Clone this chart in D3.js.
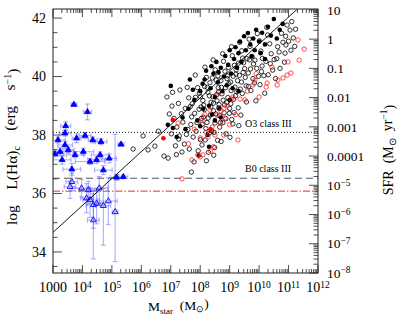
<!DOCTYPE html>
<html>
<head>
<meta charset="utf-8">
<script src="https://cdn.jsdelivr.net/npm/d3@7"></script>
<style>
body { margin: 0; background: #fff; }
svg { display: block; font-family: "Liberation Serif", "Times New Roman", serif; }
</style>
</head>
<body>
<svg id="chart" width="399" height="323"></svg>
<script>
// log M* [Msun], log L(Ha) [erg/s]
let blackOpen = [
	[5.72,37.52],[6.06,37.97],[6.23,37.49],[6.46,37.62],[6.58,38.13],[6.77,37.28],[6.87,39.3],[6.95,38.72],
	[7.04,38.99],[7.11,38.57],[7.02,38.04],[6.91,37.21],[7.16,37.63],[7.21,38.27],[7.06,39.46],[7.19,37.33],
	[7.31,39.54],[7.26,39.08],[7.36,38.73],[7.41,38.44],[7.29,37.97],[7.46,37.69],[7.38,37.42],[7.7,36.73],[7.49,38.91],[7.27,37.86],
	[7.56,39.63],[7.61,39.27],[7.66,38.97],[7.71,38.62],[7.58,38.19],[7.76,37.93],[7.63,37.52],[7.79,37.08],[7.53,38.02],[7.73,39.07],[7.68,38.36],
	[7.83,40.05],[7.91,39.62],[7.97,39.43],[8.03,38.96],[7.81,38.74],[8.07,38.37],[7.86,38.13],[8.01,37.84],[7.93,37.46],[8.06,37.66],[8.09,39.18],[7.96,38.88],[8.04,38.57],[7.84,39.29],
	[8.16,40.32],[8.21,39.97],[8.24,39.63],[8.31,39.34],[8.12,39.02],[8.34,38.68],[8.23,38.43],[8.39,38.14],[8.17,37.83],[8.28,37.41],[8.33,39.79],[8.14,38.87],[8.27,38.58],[8.37,39.12],[8.19,38.22],[8.21,37.12],
	[8.44,40.57],[8.51,40.23],[8.54,39.88],[8.61,39.62],[8.43,39.31],[8.64,39.04],[8.53,38.72],[8.69,38.43],[8.47,38.09],[8.59,37.82],[8.62,39.47],[8.45,38.83],[8.57,39.17],[8.66,38.27],[8.49,37.57],[8.46,37.31],
	[8.76,40.78],[8.79,40.52],[8.84,40.18],[8.91,39.93],[8.72,39.63],[8.94,39.28],[8.83,39.03],[8.99,38.74],[8.77,38.42],[8.88,38.04],[8.93,40.02],[8.74,39.41],[8.87,38.56],[8.97,39.76],[8.71,37.78],[9.01,37.92],
	[9.06,41.02],[9.09,40.71],[9.16,40.38],[9.21,40.08],[9.03,39.81],[9.24,39.48],[9.13,39.22],[9.29,38.93],[9.07,38.53],[9.22,40.23],[9.18,39.64],[9.11,38.38],[9.27,39.86],[9.04,39.07],[9.31,38.32],
	[9.34,41.17],[9.41,40.88],[9.44,40.63],[9.51,40.27],[9.33,40.04],[9.56,39.68],[9.43,39.42],[9.57,39.13],[9.38,38.68],[9.47,40.47],[9.53,39.97],[9.36,39.57],
	[9.66,41.28],[9.69,41.03],[9.76,40.68],[9.81,40.43],[9.63,40.12],[9.84,39.78],[9.72,39.52],[9.89,39.17],[9.67,40.57],[9.79,39.93],
	[9.94,41.47],[10.01,41.22],[10.06,40.87],[10.11,40.62],[9.92,40.28],[10.16,40.03],[10.03,39.72],[10.19,39.43],[10.08,40.17],
	[10.26,41.68],[10.29,41.42],[10.36,41.12],[10.41,40.78],[10.23,40.52],[10.46,40.22],[10.56,39.93],[10.51,40.58],[10.38,40.44],
	[10.68,40.84],[10.76,41.48],[10.81,41.17],[10.88,40.8],[10.91,41.08],[10.95,41.76],[10.71,40.28],[10.86,40.49],[10.63,41.02],
	[11.05,41.59],[11.11,41.88],[11.16,41.32],[11.21,41.03],[11.24,41.62],[11.08,40.9],
	[8.26,39.46],[8.41,39.95],[8.56,39.38],[8.63,38.93],[8.7,39.86],[8.78,39.19],[8.86,39.62],[8.96,40.31],[9.05,39.52],[9.12,40.01],
	[9.2,39.34],[9.3,40.46],[9.4,39.81],[9.46,40.14],[9.59,40.61],[9.64,39.66],[8.36,38.96],[8.5,38.41],[8.66,38.66],[8.81,38.76],
	[8.9,39.11],[9.0,38.91],[9.15,38.77],[8.11,38.61],[8.31,38.06],[8.01,39.31],[7.89,38.42],[8.15,39.66],[8.45,39.09],[8.6,40.02],
	[9.71,40.26],[9.86,40.56],[9.98,40.01],[10.1,40.36],[10.31,40.06],[10.6,40.61],[10.9,41.38],[11.0,41.21]
]

let blackFilled = [
	[7.0,39.68],[7.65,39.9],[6.9,38.35],[7.2,37.93],[7.07,38.24],[7.4,38.6],[7.6,38.9],[7.8,39.2],[7.9,38.5],
	[8.0,39.5],[8.1,38.9],[8.15,39.9],[8.2,40.2],[8.3,39.0],[8.35,39.6],[8.4,38.7],[8.45,40.1],[8.5,39.3],
	[8.55,40.5],[8.6,39.8],[8.65,38.9],[8.7,40.3],[8.75,39.5],[8.8,40.0],[8.85,40.7],[8.9,39.7],[8.95,40.4],
	[9.0,40.9],[9.05,40.1],[9.1,39.6],[9.15,40.6],[9.2,41.0],[9.25,40.3],[9.3,40.8],[9.35,41.2],[9.4,40.5],
	[9.49,41.38],[9.55,40.9],[9.62,41.49],[9.7,41.1],[9.75,40.7],[9.8,41.3],[9.85,40.9],[9.9,41.6],[10.0,41.2],
	[10.05,40.8],[10.1,41.5],[10.2,41.1],[10.3,41.7],[10.5,41.97],[10.4,41.4],[10.6,41.3],[10.7,41.6],[10.8,41.8],
	[8.0,38.3],[8.25,38.0],[7.5,38.2],[8.5,38.5],[8.7,38.6],[9.0,39.2],[8.3,37.6],[7.95,37.3],[9.3,39.5],[10.2,40.6],
	[8.38,40.35],[8.62,40.15],[7.75,39.55],[8.08,39.75]
]

let redOpen = [
	[11.32,41.25],[11.53,40.94],[11.36,40.56],[10.98,40.5],[10.44,40.32],[11.08,40.12],[10.95,40.05],[10.81,39.95],
	[10.64,39.88],[10.61,39.71],[10.27,39.78],[10.24,39.64],[9.79,39.71],[9.52,39.2],[9.35,39.23],[9.11,39.3],
	[9.05,39.23],[8.91,38.99],[8.81,38.92],[8.71,38.82],[8.57,38.68],[8.84,38.58],[8.67,38.41],[8.4,38.27],
	[9.28,37.83],[7.99,37.25],[8.09,37.32],[8.26,37.93],[7.72,37.15],[7.92,37.32],[7.38,36.5],[7.25,38.41],
	[8.6,39.4],[8.33,38.85],[8.06,38.5],[8.2,38.1],[8.8,38.0],[9.2,38.7],[9.86,39.88],[9.6,39.5],[8.45,37.6],
	[8.0,37.9],[7.8,38.2],[9.0,38.35],[8.5,38.0],[10.0,39.3],[9.9,40.1],[8.35,37.45],[7.6,37.7],[8.15,38.7]
]

let redFilled = [[7.07,38.51],[6.75,37.89],[8.35,38.2]]

// star clusters: mass, luminosity, errors, filled or not
let clusterM = [3.71,4.17,3.43,3.41,3.80,4.09,4.35,4.63,5.31,3.41,3.24,3.52,3.75,4.03,4.60,4.91,4.26,4.48,3.64,4.71,5.16,5.39,3.07,3.17,3.31,
	3.64,3.58,3.97,4.20,4.57,4.14,4.26,4.48,4.88,4.37,4.71,4.37,5.11]
let clusterL = [39.04,38.79,38.31,38.06,37.89,37.98,37.83,37.77,37.68,37.66,37.43,37.49,37.32,37.43,37.32,37.20,37.09,37.15,36.83,36.80,36.55,36.57,37.35,37.83,37.15,
	36.40,36.23,36.18,36.12,36.18,35.84,35.78,35.66,35.74,35.61,35.58,35.09,35.37]
let clusterMerr = [.10,.14,.17,.20,.15,.20,.15,.20,.10,.25,.30,.20,.30,.35,.30,.25,.50,.30,.30,.30,.20,.15,.30,.25,.30,
	.20,.20,.25,.30,.30,.20,.25,.30,.30,.25,.25,.20,.10]
let clusterLlo = [.05,.27,.14,.10,.15,.10,.10,.10,.05,.12,.15,.10,.10,.12,.10,.15,.10,.12,.20,.15,.10,.05,.10,.10,.15,
	.30,.40,.30,.30,.50,.50,.60,.70,.80,.80,1.35,1.33,1.70]
let clusterLhi = [.05,.27,.14,.10,.15,.10,.10,.10,.05,.12,.15,.10,.10,.12,.10,.15,.10,.12,.20,.15,.10,.05,.10,.10,.15,
	.30,.20,.30,.30,.40,.50,.40,.50,.80,.50,.60,.90,2.65]
let clusterFilled = [1,1,1,1,1,1,1,1,1,1,1,1,1,1,1,1,1,1,1,1,1,1,1,1,1,
	0,0,0,0,0,0,0,0,0,0,0,0,0]

let fitM = [3, 11.3]
let fitL = [34.67, 42.31]

let levelNames = ["O3 class III", "B0 class III", ""]
let levelL = [38.09, 36.52, 36.08]

let leftTicks = [34, 36, 38, 40, 42]
let sfrTicks = [1, 0, -1, -2, -3, -4, -5, -6, -7, -8]
let sfrLabels = ["10", "1", "0.1", "0.01", "0.001", "0.0001", "-5", "-6", "-7", "-8"]
let massTicks = [3, 4, 5, 6, 7, 8, 9, 10, 11, 12]

let sfrOffset = 41.28

let svg = d3.select("#chart")
let pLeft = 53, pRight = 318, pTop = 9, pBottom = 273

let x = d3.scaleLinear().domain([3, 12]).range([pLeft, pRight])
let y = d3.scaleLinear().domain([33.28, 42.31]).range([pBottom, pTop])

svg.append("clipPath").attr("id", "clip")
	.append("rect").attr("x", pLeft).attr("y", pTop).attr("width", pRight - pLeft).attr("height", pBottom - pTop)

let plot = svg.append("g").attr("clip-path", "url(#clip)")

// horizontal reference levels
let levelStyle = [
	{stroke: "#000", dash: "1,2", w: 0.9},
	{stroke: "#555", dash: "7,4", w: 1.1},
	{stroke: "#e03030", dash: "7,2,1.5,2", w: 1}
]
levelL.forEach((v, i) => {
	plot.append("line")
		.attr("x1", pLeft).attr("x2", pRight)
		.attr("y1", y(v)).attr("y2", y(v))
		.attr("stroke", levelStyle[i].stroke)
		.attr("stroke-width", levelStyle[i].w)
		.attr("stroke-dasharray", levelStyle[i].dash)
})

// cluster error bars
let barColor = "rgba(60,60,255,0.38)"
let eb = plot.append("g").attr("stroke", barColor).attr("stroke-width", 1.2)
clusterM.forEach((m, i) => {
	let cx = x(m), cy = y(clusterL[i])
	let x0 = x(m - clusterMerr[i]), x1 = x(m + clusterMerr[i])
	let y0 = y(clusterL[i] - clusterLlo[i]), y1 = y(clusterL[i] + clusterLhi[i])
	eb.append("line").attr("x1", x0).attr("x2", x1).attr("y1", cy).attr("y2", cy)
	eb.append("line").attr("x1", cx).attr("x2", cx).attr("y1", y0).attr("y2", y1)
	eb.append("line").attr("x1", x0).attr("x2", x0).attr("y1", cy - 2.5).attr("y2", cy + 2.5)
	eb.append("line").attr("x1", x1).attr("x2", x1).attr("y1", cy - 2.5).attr("y2", cy + 2.5)
	eb.append("line").attr("x1", cx - 2.5).attr("x2", cx + 2.5).attr("y1", y0).attr("y2", y0)
	eb.append("line").attr("x1", cx - 2.5).attr("x2", cx + 2.5).attr("y1", y1).attr("y2", y1)
})

let tri = d3.symbol().type(d3.symbolTriangle).size(15)
plot.append("g").selectAll("path").data(clusterM).join("path")
	.attr("d", tri)
	.attr("transform", (d, i) => "translate(" + x(d) + "," + y(clusterL[i]) + ")")
	.attr("fill", (d, i) => clusterFilled[i] ? "#0000ff" : "none")
	.attr("stroke", "#0000ff")
	.attr("stroke-width", 0.9)

// galaxies
plot.append("g").selectAll("circle").data(blackOpen).join("circle")
	.attr("cx", d => x(d[0])).attr("cy", d => y(d[1])).attr("r", 2.2)
	.attr("fill", "none").attr("stroke", "#000").attr("stroke-width", 0.8)

plot.append("g").selectAll("circle").data(blackFilled).join("circle")
	.attr("cx", d => x(d[0])).attr("cy", d => y(d[1])).attr("r", 2.3)
	.attr("fill", "#000")

plot.append("g").selectAll("circle").data(redOpen).join("circle")
	.attr("cx", d => x(d[0])).attr("cy", d => y(d[1])).attr("r", 2.2)
	.attr("fill", "none").attr("stroke", "#ff2020").attr("stroke-width", 0.8)

plot.append("g").selectAll("circle").data(redFilled).join("circle")
	.attr("cx", d => x(d[0])).attr("cy", d => y(d[1])).attr("r", 2.3)
	.attr("fill", "#ff0000")

// fit line
plot.append("path")
	.attr("d", d3.line()(fitM.map((m, i) => [x(m), y(fitL[i])])))
	.attr("stroke", "#000").attr("stroke-width", 0.9).attr("fill", "none")

// level labels
svg.append("text").attr("x", 245).attr("y", y(levelL[0]) - 5).attr("font-size", 10).text(levelNames[0])
svg.append("text").attr("x", 245).attr("y", y(levelL[1]) - 6).attr("font-size", 10).text(levelNames[1])

// frame
svg.append("rect").attr("x", pLeft).attr("y", pTop).attr("width", pRight - pLeft).attr("height", pBottom - pTop)
	.attr("fill", "none").attr("stroke", "#222").attr("stroke-width", 1)

let ticks = svg.append("g").attr("stroke", "#222").attr("stroke-width", 0.8)

// mass ticks, bottom and top
massTicks.forEach(n => {
	d3.range(1, 10).forEach(k => {
		let v = n + Math.log10(k)
		if (v > 12.001) return
		let len = k == 1 ? 8 : 4
		ticks.append("line").attr("x1", x(v)).attr("x2", x(v)).attr("y1", pBottom).attr("y2", pBottom - len)
		ticks.append("line").attr("x1", x(v)).attr("x2", x(v)).attr("y1", pTop).attr("y2", pTop + len)
	})
})

// luminosity ticks, left
d3.range(33.5, 42.31, 0.5).forEach(v => {
	let len = v % 2 == 0 ? 9 : 4.5
	ticks.append("line").attr("x1", pLeft).attr("x2", pLeft + len).attr("y1", y(v)).attr("y2", y(v))
})

// SFR ticks, right
sfrTicks.forEach(n => {
	d3.range(1, 10).forEach(k => {
		let v = n + Math.log10(k) + sfrOffset
		if (v > 42.31 || v < 33.27) return
		let len = k == 1 ? 9 : 4.5
		ticks.append("line").attr("x1", pRight).attr("x2", pRight - len).attr("y1", y(v)).attr("y2", y(v))
	})
})

// tick labels
svg.append("g").selectAll("text").data(leftTicks).join("text")
	.attr("x", 46).attr("y", d => y(d)).attr("dy", "0.35em")
	.attr("text-anchor", "end").attr("font-size", 14)
	.text(d => d)

let rl = svg.append("g").attr("font-size", 13.5)
sfrTicks.forEach((n, i) => {
	let t = rl.append("text").attr("x", 327).attr("y", y(n + sfrOffset)).attr("dy", "0.35em")
	if (n >= -4) t.text(sfrLabels[i])
	else {
		t.append("tspan").text("10")
		t.append("tspan").attr("dy", "-0.45em").attr("font-size", 9.5).text("\u2212" + sfrLabels[i].slice(1))
	}
})

let bl = svg.append("g").attr("font-size", 14)
massTicks.forEach(n => {
	let t = bl.append("text").attr("x", x(n)).attr("y", 292).attr("text-anchor", "middle")
	if (n == 3) t.text("1000")
	else {
		t.append("tspan").text("10")
		t.append("tspan").attr("dy", "-0.45em").attr("font-size", 9.5).text(n)
	}
})

// axis titles
let xt = svg.append("text").attr("x", 148).attr("y", 311).attr("font-size", 13.5)
xt.append("tspan").text("M")
xt.append("tspan").attr("dy", "0.3em").attr("font-size", 9).text("star")
xt.append("tspan").attr("dy", "-0.3em").text("\u2002(M")
xt.append("tspan").attr("dy", "0.3em").attr("font-size", 9).text("\u2299")
xt.append("tspan").attr("dy", "-0.3em").text(")")

// left title, read bottom to top starting near y = 225
let yt = svg.append("text").attr("transform", "translate(17,225) rotate(-90)")
	.attr("font-size", 15.5)
yt.append("tspan").text("log\u2003L(H\u03b1)")
yt.append("tspan").attr("dy", "0.3em").attr("font-size", 10).text("c")
yt.append("tspan").attr("dy", "-0.3em").text("\u2003(erg\u2003s")
yt.append("tspan").attr("dy", "-0.45em").attr("font-size", 10).text("\u22121")
yt.append("tspan").attr("dy", "0.45em").text(")")

let rt = svg.append("text").attr("transform", "translate(393,150) rotate(-90)")
	.attr("text-anchor", "middle").attr("font-size", 14)
rt.append("tspan").text("SFR\u2002(M")
rt.append("tspan").attr("dy", "0.3em").attr("font-size", 9.5).text("\u2299")
rt.append("tspan").attr("dy", "-0.3em").text("\u2002yr")
rt.append("tspan").attr("dy", "-0.45em").attr("font-size", 9.5).text("\u22121")
rt.append("tspan").attr("dy", "0.45em").text(")")
</script>
</body>
</html>
